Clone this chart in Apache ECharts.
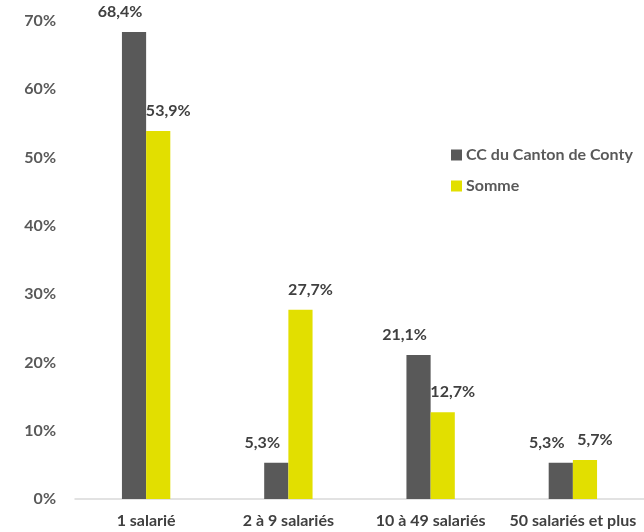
<!DOCTYPE html>
<html><head><meta charset="utf-8">
<script src="https://cdn.jsdelivr.net/npm/echarts@6/dist/echarts.min.js"></script>
<style>html,body{margin:0;padding:0;background:#fff}#c{width:644px;height:532px}</style>
</head><body><div id="c"></div>
<script>
const categories = ['1 salarié', '2 à 9 salariés', '10 à 49 salariés', '50 salariés et plus'];
const seriesNames = ['CC du Canton de Conty', 'Somme'];
const contyValues = [68.4, 5.3, 21.1, 5.3];
const sommeValues = [53.9, 27.7, 12.7, 5.7];
const yTicks = [0, 10, 20, 30, 40, 50, 60, 70];

const font = 'Lato, "Open Sans", sans-serif';
const fs = 16;
const fmt = v => v.toFixed(1).replace('.', ',') + '%';
const chart = echarts.init(document.getElementById('c'));
chart.setOption({
  animation: false,
  textStyle: { fontFamily: font },
  grid: { left: 75, right: 0, top: 21, bottom: 33 },
  legend: {
    orient: 'vertical', left: 446, top: 142, itemGap: 15,
    icon: 'rect', itemWidth: 11, itemHeight: 11, itemStyle: { borderWidth: 0 },
    textStyle: { fontFamily: font, fontSize: fs, fontWeight: 'bold', color: '#595959', padding: [0, 0, 0, -1] },
    data: seriesNames
  },
  xAxis: {
    type: 'category', data: categories,
    axisLine: { lineStyle: { color: '#d9d9d9', width: 1.5 } },
    axisTick: { show: false },
    axisLabel: { fontFamily: font, fontSize: fs, fontWeight: 'bold', color: '#404040', margin: 14, interval: 0 }
  },
  yAxis: {
    type: 'value', min: yTicks[0], max: yTicks[yTicks.length - 1], interval: 10,
    splitLine: { show: false },
    axisLine: { show: false }, axisTick: { show: false },
    axisLabel: { fontFamily: font, fontSize: fs, fontWeight: 'bold', color: '#595959', margin: 19, formatter: v => v + '%' }
  },
  series: [
    {
      name: seriesNames[0], type: 'bar', data: contyValues, barGap: '0%', barCategoryGap: '66%',
      itemStyle: { color: '#595959' },
      label: { show: true, position: 'top', offset: [-14, -7], formatter: p => fmt(p.value),
        fontFamily: font, fontSize: fs, fontWeight: 'bold', color: '#404040' }
    },
    {
      name: seriesNames[1], type: 'bar', data: sommeValues,
      itemStyle: { color: '#e2df00' },
      label: { show: true, position: 'top', offset: [10, -7], formatter: p => fmt(p.value),
        fontFamily: font, fontSize: fs, fontWeight: 'bold', color: '#404040' }
    }
  ]
});
</script></body></html>
